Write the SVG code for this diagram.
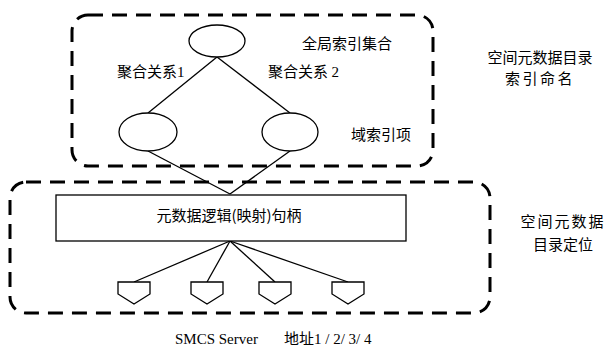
<svg xmlns="http://www.w3.org/2000/svg" width="606" height="347" viewBox="0 0 606 347">
  <style>
    .frame { fill: none; stroke: #000; stroke-width: 3; stroke-dasharray: 15 9; }
    .node { fill: #fff; stroke: #000; stroke-width: 1.3; }
    .link { fill: none; stroke: #000; stroke-width: 1.3; }
    .cjk { font-family: "Noto Sans CJK SC", "Noto Sans", sans-serif; font-size: 15px; fill: #000; }
    .num { font-family: "Liberation Serif", serif; font-size: 15px; }
  </style>
  <rect width="606" height="347" fill="#fff"/>

  <!-- dashed grouping frames -->
  <g id="frame-index">
    <rect class="frame" x="72" y="15" width="361" height="151" rx="16" ry="16"/>
  </g>
  <g id="frame-locate">
    <rect class="frame" x="10" y="182" width="480" height="131" rx="16" ry="16"/>
  </g>

  <!-- connectors -->
  <g id="connectors">
    <line class="link" x1="217" y1="57" x2="148" y2="113"/>
    <line class="link" x1="217" y1="57" x2="290" y2="113"/>
    <line class="link" x1="148" y1="151" x2="230" y2="194"/>
    <line class="link" x1="290" y1="151" x2="230" y2="194"/>
    <line class="link" x1="230" y1="241" x2="134" y2="282"/>
    <line class="link" x1="230" y1="241" x2="207" y2="282"/>
    <line class="link" x1="230" y1="241" x2="275" y2="282"/>
    <line class="link" x1="230" y1="241" x2="348" y2="282"/>
  </g>

  <!-- index tree -->
  <g id="global-index">
    <ellipse class="node" cx="217" cy="41" rx="28" ry="16"/>
  </g>
  <g id="domain-index-1">
    <ellipse class="node" cx="148" cy="132" rx="29" ry="19"/>
  </g>
  <g id="domain-index-2">
    <ellipse class="node" cx="290" cy="132" rx="28" ry="19"/>
  </g>

  <!-- handle -->
  <g id="handle">
    <rect class="node" x="56" y="195" width="350" height="46"/>
    <text class="cjk" x="229" y="221" text-anchor="middle">元数据逻辑(映射)句柄</text>
  </g>

  <!-- server addresses -->
  <g id="server-1">
    <polygon class="node" points="118,282 150,282 150,294 134,304 118,294"/>
  </g>
  <g id="server-2">
    <polygon class="node" points="191,282 223,282 223,294 207,304 191,294"/>
  </g>
  <g id="server-3">
    <polygon class="node" points="259,282 291,282 291,294 275,304 259,294"/>
  </g>
  <g id="server-4">
    <polygon class="node" points="332,282 364,282 364,294 348,304 332,294"/>
  </g>

  <!-- labels -->
  <g id="labels">
    <text class="cjk" x="302" y="49">全局索引集合</text>
    <text class="cjk" x="117" y="77">聚合关系<tspan class="num">1</tspan></text>
    <text class="cjk" x="268" y="77">聚合关系 <tspan class="num">2</tspan></text>
    <text class="cjk" x="351" y="140">域索引项</text>
    <text class="cjk" x="540" y="63" text-anchor="middle">空间元数据目录</text>
    <text class="cjk" x="540" y="84" text-anchor="middle" letter-spacing="2.5">索引命名</text>
    <text class="cjk" x="563" y="227" text-anchor="middle" letter-spacing="2">空间元数据</text>
    <text class="cjk" x="563" y="250" text-anchor="middle">目录定位</text>
    <text class="num" x="175" y="344">SMCS Server</text>
    <text class="cjk" x="284" y="344">地址<tspan class="num">1 / 2/ 3/ 4</tspan></text>
  </g>
</svg>
